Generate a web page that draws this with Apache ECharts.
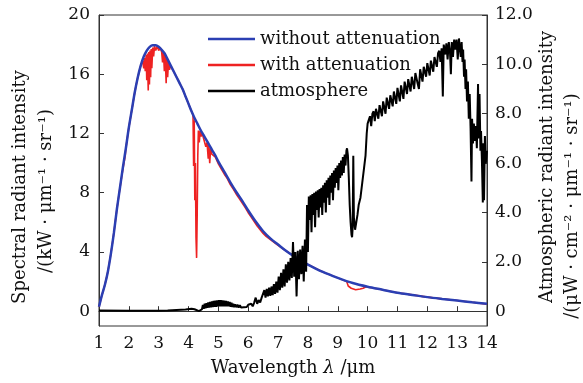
<!DOCTYPE html>
<html><head><meta charset="utf-8">
<script src="https://cdn.jsdelivr.net/npm/echarts@6/dist/echarts.min.js"></script>
<style>html,body{margin:0;padding:0;background:#fff}#c{width:583px;height:383px}</style>
</head><body><div id="c"></div>
<script>
// ---- data ----
const xTicks = [1,2,3,4,5,6,7,8,9,10,11,12,13,14];
const leftTicks = [0,4,8,12,16,20];
const rightTicks = [0,2,4,6,8,10,12];

// without attenuation [wavelength um, kW/(um sr)]
const withoutAtten = [[1.0,0.3],[1.1,1.1],[1.2,1.8],[1.3,2.7],[1.4,3.9],[1.5,5.3],[1.6,6.9],[1.7,8.3],[1.8,9.7],[1.9,11.0],[2.0,12.4],[2.1,13.6],[2.2,14.8],[2.3,15.8],[2.4,16.6],[2.5,17.2],[2.6,17.6],[2.7,17.85],[2.8,17.95],[2.9,17.95],[3.0,17.85],[3.1,17.65],[3.2,17.4],[3.3,17.0],[3.4,16.6],[3.5,16.2],[3.6,15.8],[3.7,15.4],[3.8,15.0],[3.9,14.5],[4.0,14.0],[4.1,13.5],[4.2,13.05],[4.3,12.65],[4.4,12.25],[4.5,11.9],[4.6,11.55],[4.7,11.2],[4.8,10.85],[4.9,10.5],[5.0,10.1],[5.2,9.4],[5.4,8.7],[5.6,8.05],[5.8,7.45],[6.0,6.8],[6.25,6.05],[6.5,5.4],[6.75,4.9],[7.0,4.5],[7.25,4.1],[7.5,3.75],[7.75,3.45],[8.0,3.15],[8.5,2.65],[9.0,2.25],[9.5,1.9],[10.0,1.65],[10.5,1.45],[11.0,1.25],[11.5,1.1],[12.0,0.95],[12.5,0.83],[13.0,0.72],[13.5,0.6],[14.0,0.5]];

// with attenuation
const withAtten = [[1.0,0.3],[1.1,1.1],[1.2,1.8],[1.3,2.7],[1.4,3.9],[1.5,5.3],[1.6,6.9],[1.7,8.3],[1.8,9.6],[1.84,9.5],[1.88,10.5],[1.9,11.0],[2.0,12.4],[2.1,13.6],[2.2,14.8],[2.3,15.8],[2.4,16.6],[2.46,16.9],[2.5,16.4],[2.52,17.1],[2.55,16.2],[2.58,17.3],[2.6,15.6],[2.62,17.4],[2.65,14.9],[2.67,17.5],[2.69,15.3],[2.71,17.6],[2.73,15.8],[2.75,17.7],[2.77,16.4],[2.8,17.8],[2.83,17.2],[2.86,17.9],[2.9,17.6],[2.95,17.9],[3.0,17.6],[3.05,17.8],[3.1,17.5],[3.13,16.8],[3.16,17.5],[3.19,16.2],[3.22,17.3],[3.25,15.4],[3.27,17.1],[3.3,15.8],[3.33,16.9],[3.36,16.3],[3.4,16.6],[3.45,16.4],[3.5,16.2],[3.6,15.8],[3.7,15.4],[3.8,15.0],[3.9,14.5],[4.0,14.0],[4.1,13.5],[4.15,13.25],[4.17,9.8],[4.19,12.9],[4.21,7.5],[4.23,10.0],[4.25,5.0],[4.27,3.6],[4.29,6.5],[4.31,10.5],[4.33,12.2],[4.36,11.4],[4.39,12.2],[4.42,11.8],[4.46,12.0],[4.5,11.7],[4.55,11.7],[4.58,11.1],[4.62,11.4],[4.66,10.3],[4.68,11.2],[4.71,10.0],[4.74,11.0],[4.78,10.6],[4.9,10.4],[5.0,9.95],[5.1,9.6],[5.2,9.25],[5.3,8.95],[5.4,8.55],[5.5,8.25],[5.6,7.9],[5.7,7.6],[5.8,7.3],[5.9,7.0],[6.0,6.65],[6.1,6.35],[6.2,6.05],[6.3,5.75],[6.4,5.5],[6.5,5.25],[6.6,5.05],[6.7,4.9],[6.8,4.75],[6.9,4.6],[7.0,4.45],[7.25,4.1],[7.5,3.75],[7.75,3.45],[8.0,3.15],[8.5,2.65],[9.0,2.25],[9.3,2.0],[9.35,1.7],[9.45,1.55],[9.6,1.45],[9.75,1.5],[9.85,1.55],[9.95,1.65],[10.0,1.65],[10.5,1.45],[11.0,1.25],[11.5,1.1],[12.0,0.95],[12.5,0.83],[13.0,0.72],[13.5,0.6],[14.0,0.48]];

// atmosphere [wavelength um, uW/(cm2 um sr)]
const atmosphere = [[1.0,0.03],[2.0,0.02],[3.0,0.02],[3.3,0.03],[3.6,0.05],[3.9,0.07],[4.1,0.1],[4.2,0.08],[4.35,0.0],[4.45,0.08],
[4.48,0.25],[4.51,0.1],[4.54,0.3],[4.57,0.12],[4.6,0.33],[4.63,0.14],[4.66,0.36],[4.69,0.15],[4.72,0.38],[4.75,0.16],[4.78,0.4],[4.81,0.17],[4.84,0.42],[4.87,0.18],[4.9,0.43],[4.93,0.18],[4.96,0.44],[4.99,0.2],[5.02,0.45],[5.05,0.2],[5.08,0.45],[5.11,0.2],[5.14,0.44],[5.17,0.2],[5.2,0.43],[5.23,0.2],[5.26,0.42],[5.29,0.2],[5.32,0.4],[5.35,0.2],[5.38,0.37],[5.41,0.18],[5.44,0.34],[5.47,0.17],[5.5,0.3],[5.53,0.16],[5.56,0.28],[5.6,0.16],[5.64,0.26],[5.68,0.15],[5.72,0.24],[5.76,0.15],[5.8,0.23],[5.85,0.16],[5.9,0.24],[5.95,0.17],[6.0,0.26],[6.05,0.18],[6.1,0.3],[6.15,0.2],[6.2,0.35],[6.25,0.55],[6.3,0.3],[6.35,0.45],[6.4,0.35],[6.45,0.55],
[6.5,0.5],[6.54,0.85],[6.58,0.55],[6.62,0.9],[6.66,0.6],[6.7,0.95],[6.74,0.62],[6.78,1.0],[6.82,0.65],[6.86,1.1],[6.9,0.7],[6.94,1.2],[6.98,0.75],[7.02,1.4],[7.06,0.85],[7.1,1.55],[7.14,0.95],[7.18,1.7],[7.22,1.0],[7.26,1.9],[7.3,1.15],[7.34,2.0],[7.38,1.25],[7.42,2.15],[7.46,1.35],[7.5,2.8],[7.54,1.4],[7.58,2.4],[7.62,0.6],[7.66,2.45],[7.7,1.3],[7.74,2.5],[7.78,1.5],[7.82,2.65],[7.86,1.2],[7.9,2.9],[7.94,1.6],[7.97,4.3],[8.0,2.4],
[8.03,4.65],[8.06,3.7],[8.09,4.7],[8.12,3.2],[8.15,4.75],[8.18,3.9],[8.21,4.8],[8.24,3.4],[8.27,4.85],[8.3,4.1],[8.33,4.9],[8.36,3.8],[8.39,4.95],[8.42,4.2],[8.45,5.0],[8.48,3.9],[8.51,5.1],[8.54,4.4],[8.57,5.2],[8.6,4.0],[8.63,5.3],[8.66,4.6],[8.69,5.4],[8.72,4.3],[8.75,5.5],[8.78,4.8],[8.81,5.6],[8.84,4.5],[8.87,5.7],[8.9,5.0],[8.93,5.8],[8.96,5.2],[8.99,5.9],[9.02,4.9],[9.05,6.0],[9.08,5.4],[9.11,6.1],[9.14,5.5],[9.17,6.25],[9.2,5.6],[9.23,6.35],[9.26,5.9],[9.29,6.5],[9.31,6.6],[9.34,6.3],
[9.37,5.4],[9.4,4.3],[9.43,3.6],[9.46,3.1],[9.48,3.0],[9.5,3.4],[9.52,6.3],[9.54,3.8],[9.58,3.3],[9.62,3.6],[9.66,3.9],[9.7,4.3],[9.76,4.6],[9.82,5.2],[9.88,5.8],[9.93,6.3],[9.97,7.2],[10.0,7.6],
[10.04,7.75],[10.08,7.9],[10.12,7.5],[10.16,8.0],[10.2,8.1],[10.24,7.7],[10.28,8.2],[10.32,8.25],[10.36,7.8],[10.4,8.35],[10.44,8.4],[10.48,7.9],[10.52,8.5],[10.56,8.55],[10.6,8.0],[10.64,8.65],[10.68,8.7],[10.72,8.2],[10.76,8.75],[10.8,8.8],[10.84,8.3],[10.88,8.9],[10.92,8.95],[10.96,8.4],[11.0,9.05],[11.04,9.1],[11.08,8.5],[11.12,9.15],[11.16,9.2],[11.2,8.6],[11.24,9.3],[11.28,9.35],[11.32,8.8],[11.36,9.4],[11.4,9.45],[11.44,8.9],[11.48,9.5],[11.52,9.55],[11.56,9.0],[11.6,9.65],[11.64,9.7],[11.68,9.2],[11.72,9.0],[11.76,9.8],[11.8,9.85],[11.84,9.3],[11.88,9.9],[11.92,9.95],[11.96,9.5],[12.0,10.05],[12.04,10.1],[12.08,9.55],[12.12,10.15],[12.16,10.2],[12.2,9.7],[12.24,10.3],[12.28,10.35],[12.32,9.9],[12.36,10.45],[12.4,10.55],[12.44,10.1],[12.48,10.65],[12.52,8.7],[12.55,10.8],[12.6,10.4],[12.64,10.85],[12.68,10.2],[12.72,10.9],[12.76,10.5],[12.79,9.6],[12.82,10.9],[12.86,10.3],[12.9,11.0],[12.94,10.6],[12.98,11.0],[13.02,10.2],[13.06,11.05],[13.1,11.0],
[13.12,10.3],[13.15,10.9],[13.18,10.1],[13.2,10.6],[13.23,9.5],[13.25,10.2],[13.28,9.0],[13.3,9.8],[13.33,8.5],[13.36,9.3],[13.39,7.8],[13.42,8.8],[13.45,7.4],[13.48,5.25],[13.5,7.8],[13.53,6.8],[13.56,7.6],[13.6,6.9],[13.63,7.5],[13.66,6.6],[13.7,9.2],[13.72,7.0],[13.75,8.8],[13.78,6.5],[13.8,7.3],[13.83,6.1],[13.86,4.4],[13.88,6.8],[13.9,4.5],[13.93,7.1],[13.96,6.0],[14.0,6.5]];

const FONT = 'DejaVu Serif';
const chart = echarts.init(document.getElementById('c'), null, {renderer:'canvas'});
chart.setOption({
  animation:false,
  backgroundColor:'#fff',
  grid:{left:99, right:96, top:15, bottom:57, show:true, borderColor:'#333', borderWidth:1, backgroundColor:'transparent'},
  legend:{
    data:['without attenuation','with attenuation','atmosphere'],
    orient:'vertical', left:203, top:25, icon:'rect', itemWidth:47, itemHeight:2.5, itemGap:8,
    textStyle:{fontFamily:FONT, fontSize:18, lineHeight:18, color:'#111'}
  },
  xAxis:{type:'value', min:1, max:14, interval:1,
    axisLine:{lineStyle:{color:'#333', width:1}},
    axisTick:{inside:true, length:5, lineStyle:{color:'#333'}},
    axisLabel:{fontFamily:FONT, fontSize:17, color:'#111', margin:9},
    splitLine:{show:false},
    name:'Wavelength {i|λ} /μm', nameLocation:'middle', nameGap:33,
    nameTextStyle:{fontFamily:FONT, fontSize:18, color:'#111', rich:{i:{fontFamily:FONT, fontStyle:'italic', fontSize:18, color:'#111'}}}
  },
  yAxis:[
    {type:'value', min:-1, max:20, position:'left',
      axisLine:{show:true, lineStyle:{color:'#333'}},
      axisTick:{inside:true, length:5, customValues:leftTicks, lineStyle:{color:'#333'}},
      axisLabel:{fontFamily:FONT, fontSize:17, color:'#111', margin:9, customValues:leftTicks},
      splitLine:{show:false}},
    {type:'value', min:-0.6, max:12, position:'right',
      axisLine:{show:true, lineStyle:{color:'#333'}},
      axisTick:{inside:true, length:5, customValues:rightTicks, lineStyle:{color:'#333'}},
      axisLabel:{fontFamily:FONT, fontSize:17, color:'#111', margin:8, customValues:rightTicks,
        formatter:v=> v===0 ? '0' : v.toFixed(1)},
      splitLine:{show:false}}
  ],
  graphic:[
    {type:'text', x:20, y:187, rotation:Math.PI/2, style:{text:'Spectral radiant intensity', font:'18px "DejaVu Serif"', fill:'#111', align:'center', verticalAlign:'middle'}},
    {type:'text', x:46, y:191, rotation:Math.PI/2, style:{text:'/(kW · μm⁻¹ · sr⁻¹)', font:'18px "DejaVu Serif"', fill:'#111', align:'center', verticalAlign:'middle'}},
    {type:'text', x:547, y:167, rotation:Math.PI/2, style:{text:'Atmospheric radiant intensity', font:'18px "DejaVu Serif"', fill:'#111', align:'center', verticalAlign:'middle'}},
    {type:'text', x:572, y:206, rotation:Math.PI/2, style:{text:'/(μW · cm⁻² · μm⁻¹ · sr⁻¹)', font:'18px "DejaVu Serif"', fill:'#111', align:'center', verticalAlign:'middle'}}
  ],
  series:[
    {name:'without attenuation', type:'line', data:withoutAtten, yAxisIndex:0, smooth:0.3, symbol:'none', z:3,
      lineStyle:{color:'#2b3fb3', width:2.5}, itemStyle:{color:'#2b3fb3'}},
    {name:'with attenuation', type:'line', data:withAtten, yAxisIndex:0, symbol:'none', z:2,
      lineStyle:{color:'#ee2222', width:1.6}, itemStyle:{color:'#ee2222'}},
    {name:'atmosphere', type:'line', data:atmosphere, yAxisIndex:1, symbol:'none', z:4,
      lineStyle:{color:'#000', width:2}, itemStyle:{color:'#000'}}
  ]
});
</script></body></html>
